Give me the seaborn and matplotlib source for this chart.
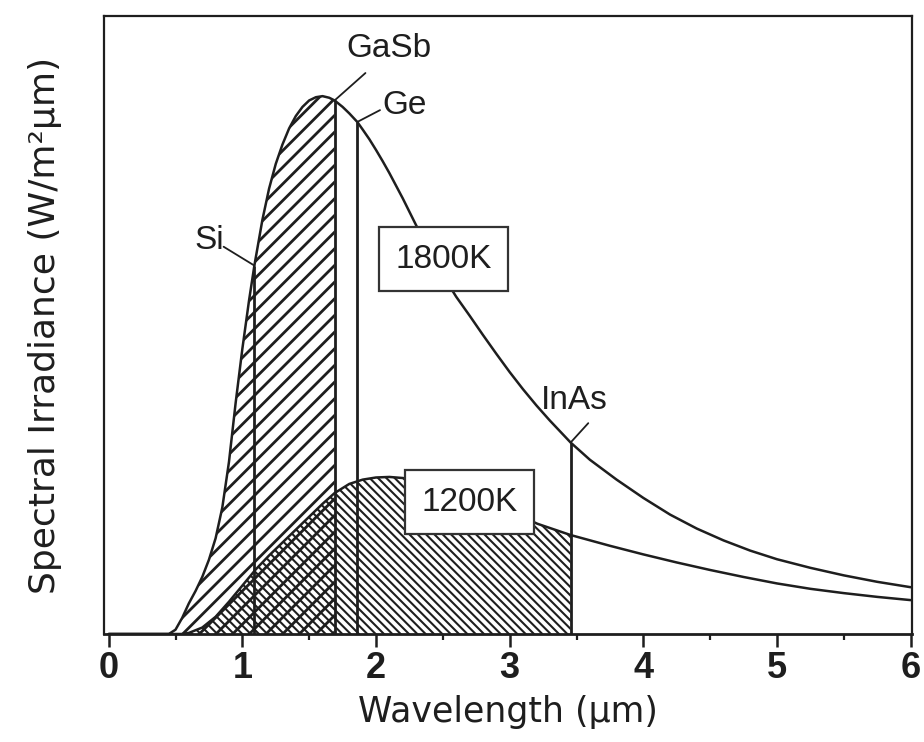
import numpy as np
import pandas as pd
import matplotlib
matplotlib.use("Agg")
import matplotlib.pyplot as plt
import seaborn as sns

# Blackbody spectral irradiance (relative units) vs wavelength (µm)
wl_1800 = [0.0, 0.45, 0.50, 0.55, 0.60, 0.65, 0.70, 0.75, 0.80, 0.85,
           0.90, 0.95, 1.00, 1.05, 1.09, 1.15, 1.20, 1.25, 1.30, 1.35,
           1.40, 1.45, 1.50, 1.55, 1.60, 1.65, 1.69, 1.75, 1.80, 1.86,
           1.90, 1.95, 2.00, 2.05, 2.10, 2.20, 2.30, 2.40, 2.50, 2.60,
           2.70, 2.80, 2.90, 3.00, 3.10, 3.20, 3.30, 3.456, 3.60, 3.80,
           4.00, 4.20, 4.40, 4.60, 4.80, 5.00, 5.25, 5.50, 5.75, 6.00]
irr_1800 = [0.0, 0.0, 0.008, 0.030, 0.057, 0.080, 0.106, 0.138, 0.178, 0.235,
            0.320, 0.430, 0.530, 0.620, 0.685, 0.770, 0.828, 0.874, 0.910, 0.940,
            0.963, 0.980, 0.992, 0.998, 1.000, 0.997, 0.992, 0.980, 0.968, 0.952,
            0.938, 0.920, 0.900, 0.879, 0.857, 0.810, 0.760, 0.712, 0.667, 0.627,
            0.592, 0.556, 0.521, 0.487, 0.455, 0.425, 0.397, 0.356, 0.324, 0.287,
            0.253, 0.222, 0.196, 0.174, 0.155, 0.139, 0.123, 0.109, 0.097, 0.087]

wl_1200 = [0.0, 0.55, 0.60, 0.70, 0.80, 0.90, 1.00, 1.10, 1.20, 1.30,
           1.40, 1.50, 1.60, 1.69, 1.80, 1.90, 2.00, 2.10, 2.20, 2.40,
           2.60, 2.80, 3.00, 3.207, 3.456, 3.75, 4.00, 4.25, 4.50, 4.75,
           5.00, 5.25, 5.50, 5.75, 6.00]
irr_1200 = [0.0, 0.0, 0.002, 0.012, 0.032, 0.060, 0.090, 0.120, 0.146, 0.170,
            0.194, 0.218, 0.242, 0.262, 0.279, 0.287, 0.291, 0.292, 0.290, 0.282,
            0.268, 0.250, 0.229, 0.205, 0.184, 0.164, 0.148, 0.133, 0.119, 0.106,
            0.094, 0.084, 0.076, 0.069, 0.063]

# Cut-off wavelengths of the photovoltaic cell materials
materials = ["Si", "GaSb", "Ge", "InAs"]
cutoff_wl = [1.09, 1.69, 1.86, 3.456]

temps = ["1800K", "1200K"]
x_ticks = [0, 1, 2, 3, 4, 5, 6]

df = pd.concat([
    pd.DataFrame({"wl": wl_1800, "irr": irr_1800, "T": temps[0]}),
    pd.DataFrame({"wl": wl_1200, "irr": irr_1200, "T": temps[1]}),
])

sns.set_theme(style="white")
plt.rcParams["font.family"] = ["Liberation Sans", "DejaVu Sans"]

fig = plt.figure(figsize=(9.24, 7.42), dpi=100)
ax = fig.add_axes([104 / 924, 1 - 634 / 742, 808 / 924, 618 / 742])

ink = "#1e1e1e"

# hatched areas: 1800K up to the GaSb edge, 1200K up to the InAs edge
w18 = np.array(wl_1800)
y18 = np.array(irr_1800)
w12 = np.array(wl_1200)
y12 = np.array(irr_1200)
gasb = cutoff_wl[materials.index("GaSb")]
inas = cutoff_wl[materials.index("InAs")]

with plt.rc_context({"hatch.linewidth": 2.0}):
    ax.fill_between(w18, 0, y18, where=w18 <= gasb, facecolor="none",
                    edgecolor=ink, linewidth=0, hatch="//", zorder=1)
with plt.rc_context({"hatch.linewidth": 1.5}):
    ax.fill_between(w12, 0, y12, where=w12 <= inas, facecolor="none",
                    edgecolor=ink, linewidth=0, hatch="\\\\\\\\", zorder=1)

sns.lineplot(data=df, x="wl", y="irr", units="T", estimator=None, sort=False,
             color=ink, linewidth=1.8, ax=ax, zorder=3)

# cut-off lines from the axis up to the 1800K curve
for m, c in zip(materials, cutoff_wl):
    top = np.interp(c, w18, y18)
    ax.plot([c, c], [0, top], color=ink, linewidth=2.0, zorder=3,
            solid_capstyle="butt")

# material labels with leader lines
label_pos = {"Si": (0.749, 0.732), "GaSb": (2.10, 1.088),
             "Ge": (2.217, 0.983), "InAs": (3.48, 0.435)}
leader_end = {"Si": (0.86, 0.72), "GaSb": (1.921, 1.043),
              "Ge": (2.03, 0.974), "InAs": (3.588, 0.392)}
for m, c in zip(materials, cutoff_wl):
    top = np.interp(c, w18, y18)
    ex, ey = leader_end[m]
    ax.plot([c, ex], [top, ey], color=ink, linewidth=1.3, zorder=3)
    tx, ty = label_pos[m]
    ax.text(tx, ty, m, fontsize=24, ha="center", va="center", color=ink,
            zorder=4)

# temperature boxes
box_pos = {"1800K": (2.505, 0.697), "1200K": (2.70, 0.245)}
for t in temps:
    bx, by = box_pos[t]
    ax.text(bx, by, t, fontsize=24, ha="center", va="center", color=ink,
            zorder=5,
            bbox=dict(boxstyle="square,pad=0.5", facecolor="white",
                      edgecolor="#333333", linewidth=1.6))

ax.set_xlim(-0.035, 6.01)
ax.set_ylim(0, 1.149)
ax.set_xticks(x_ticks)
ax.set_xticks(np.arange(0.5, 6, 1.0), minor=True)
ax.set_xticklabels([str(v) for v in x_ticks],
                   fontdict={"family": ["Liberation Sans Narrow", "Liberation Sans"],
                             "size": 26, "weight": "bold"})
ax.set_yticks([])
ax.tick_params(axis="x", which="major", direction="out", length=9.5, width=1.8,
               color=ink, pad=3, labelcolor=ink, bottom=True)
ax.tick_params(axis="x", which="minor", direction="out", length=4, width=1.6,
               color=ink, bottom=True)
for side, sp in ax.spines.items():
    sp.set_visible(True)
    sp.set_color(ink)
    sp.set_linewidth(1.6)
ax.spines["bottom"].set_linewidth(2.0)

ax.set_xlabel("Wavelength (µm)", family="DejaVu Sans", fontsize=25,
              color=ink, labelpad=6)
ax.set_ylabel("Spectral Irradiance (W/m²µm)", family="DejaVu Sans",
              fontsize=26, color=ink, labelpad=30)

fig.savefig("out.png", dpi=100, facecolor="white")
